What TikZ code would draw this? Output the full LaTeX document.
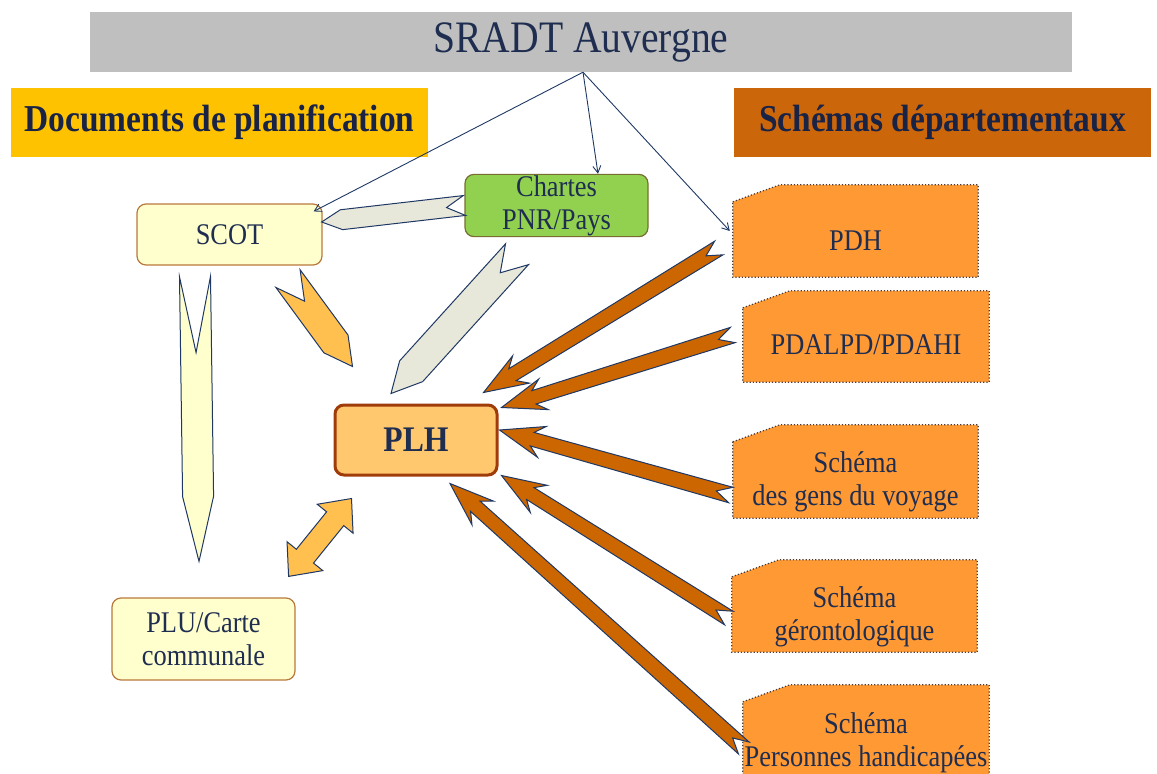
\documentclass[tikz,border=0pt]{standalone}
\usepackage{fontspec}
\setmainfont[FakeStretch=0.88]{Liberation Serif}
\usetikzlibrary{calc,positioning,arrows.meta}

\definecolor{navyline}{RGB}{31,56,100}
\definecolor{navytext}{RGB}{30,45,80}
\definecolor{headtext}{RGB}{25,35,70}
\definecolor{barfill}{RGB}{191,191,191}
\definecolor{docfill}{RGB}{255,194,0}
\definecolor{schfill}{RGB}{204,102,10}
\definecolor{scotfill}{RGB}{255,255,206}
\definecolor{boxline}{RGB}{185,120,60}
\definecolor{chartfill}{RGB}{146,208,80}
\definecolor{chartline}{RGB}{120,110,50}
\definecolor{plhfill}{RGB}{255,200,110}
\definecolor{plhline}{RGB}{160,60,10}
\definecolor{snipfill}{RGB}{255,153,51}
\definecolor{snipline}{RGB}{70,60,60}
\definecolor{brownfill}{RGB}{204,102,0}
\definecolor{greyfill}{RGB}{232,232,218}
\definecolor{orangefill}{RGB}{255,192,80}

\newcommand{\boxfont}{\fontsize{30}{33}\selectfont}

\tikzset{
  titlebar/.style={fill=barfill, minimum width=982, minimum height=60, text=navytext, font=\fontsize{45}{50}\selectfont},
  headbox/.style={minimum width=417, minimum height=69, text=headtext, font=\bfseries\fontsize{38}{42}\selectfont},
  planbox/.style={draw=boxline, line width=1.2, rounded corners=9, fill=scotfill, text=navytext, align=center, inner sep=1pt, font=\boxfont, minimum width=185, minimum height=61},
  snipbox/.style={minimum width=245, minimum height=92},
  sniptext/.style={align=center, text=navytext, font=\boxfont},
  link/.style={navyline, line width=0.9, -{Straight Barb[length=7pt,width=8pt]}},
  greyarrow/.style={draw=navyline, line width=1, fill=greyfill},
  orangearrow/.style={draw=navyline, line width=1, fill=orangefill},
  palearrow/.style={draw=navyline, line width=1, fill=scotfill},
  feed/.style={draw=navyline, line width=1, fill=brownfill}
}

% notched arrow with a pointed end: style, tail, tip, half width, notch, head
\newcommand{\pentarrow}[6]{%
  \coordinate (pahead) at ($(#3)!#6!(#2)$);
  \draw[#1] ($(#2)!#4!90:(#3)$) -- ($(#2)!#5!(#3)$) -- ($(#2)!#4!-90:(#3)$)
    -- ($(pahead)!#4!-90:(#3)$) -- (#3) -- ($(pahead)!#4!90:(#3)$) -- cycle;
}
% brown notched arrow with barbed head: tail, tip
\newcommand{\feedarrow}[2]{%
  \coordinate (fabarb) at ($(#2)!44pt!(#1)$);
  \coordinate (fajoint) at ($(#2)!34pt!(#1)$);
  \draw[feed] ($(#1)!8pt!90:(#2)$) -- ($(#1)!15pt!(#2)$) -- ($(#1)!8pt!-90:(#2)$)
    -- ($(fajoint)!7pt!-90:(#2)$) -- ($(fabarb)!16pt!-90:(#2)$) -- (#2)
    -- ($(fabarb)!16pt!90:(#2)$) -- ($(fajoint)!7pt!90:(#2)$) -- cycle;
}
% double headed arrow: end, end
\newcommand{\bothwayarrow}[2]{%
  \coordinate (dwa) at ($(#1)!26pt!(#2)$);
  \coordinate (dwb) at ($(#2)!26pt!(#1)$);
  \draw[orangearrow] (#1) -- ($(dwa)!23pt!90:(#2)$) -- ($(dwa)!11pt!90:(#2)$)
    -- ($(dwb)!11pt!90:(#2)$) -- ($(dwb)!23pt!90:(#2)$) -- (#2)
    -- ($(dwb)!23pt!-90:(#2)$) -- ($(dwb)!11pt!-90:(#2)$)
    -- ($(dwa)!11pt!-90:(#2)$) -- ($(dwa)!23pt!-90:(#2)$) -- cycle;
}

\begin{document}
\begin{tikzpicture}[x=1pt,y=-1pt]
\useasboundingbox (0,0) rectangle (1157,774);
\clip (0,0) rectangle (1157,774);

% titles
\node[titlebar] (sradt) at (581,42) {SRADT Auvergne};
\node[headbox, fill=docfill] (docs) at (219.5,122.5) {Documents de planification};
\node[headbox, fill=schfill] (schemas) at (942.5,122.5) {Schémas départementaux};

% documents de planification
\node[planbox] (scot) at (229.5,234.5) {SCOT};
\node[planbox, fill=chartfill, draw=chartline, minimum width=183] (chartes) at (556.5,205.5) {Chartes\\PNR/Pays};
\node[planbox, minimum width=183, minimum height=82] (plu) at (203.5,639) {PLU/Carte\\communale};
\node[planbox, fill=plhfill, draw=plhline, line width=3, minimum width=162, minimum height=70,
      font=\bfseries\fontsize{36}{40}\selectfont] (plh) at (416,440) {PLH};

% schemas departementaux
\node[snipbox] (pdh) at (855.5,231) {};
\node[snipbox, minimum width=246, minimum height=91] (pdal) at (866,336.5) {};
\node[snipbox, minimum height=93] (gens) at (855.5,471.5) {};
\node[snipbox] (geronto) at (854.5,606) {};
\node[snipbox, minimum width=246, minimum height=96] (handi) at (866,733) {};
\foreach \b in {pdh,pdal,gens,geronto,handi}
  \draw[snipline, dotted, line width=1.2, fill=snipfill]
    ([yshift=-17pt]\b.north west) -- ([xshift=47pt]\b.north west) -- (\b.north east)
    -- (\b.south east) -- (\b.south west) -- cycle;
\node[sniptext] (pdhtxt) at ([yshift=-10pt]pdh.center) {PDH};
\node[sniptext] (pdaltxt) at ([yshift=-8pt]pdal.center) {PDALPD/PDAHI};
\node[sniptext] (genstxt) at ([yshift=-10pt]gens.center) {Schéma\\des gens du voyage};
\node[sniptext] (gerontotxt) at ([yshift=-11pt]geronto.center) {Schéma\\gérontologique};
\node[sniptext] (handitxt) at ([yshift=-10pt]handi.center) {Schéma\\Personnes handicapées};

% links from the SRADT
\coordinate (apex) at ([xshift=2pt]sradt.south);
\draw[link] (apex) -- ([xshift=-9pt,yshift=-8pt]scot.north east);
\draw[link] (apex) -- ([xshift=41.5pt]chartes.north);
\draw[link] (apex) -- ([xshift=-3pt]pdh.west);

% block arrows
\coordinate (chout1) at (chartes.west);
\coordinate (scotin) at ($(scot.east)+(-1,-12.5)$);
\coordinate (chout2) at ($(chartes.south)+(-39.5,17)$);
\coordinate (plhtop) at ($(plh.north)+(-25,-10)$);
\coordinate (scotout) at ($(scot.south)+(58.5,13)$);
\coordinate (plhnw) at ($(plh.north west)+(19,-37)$);
\coordinate (scotdown) at ($(scot.south)+(-34.5,11)$);
\coordinate (pluin) at ($(plu.north)+(-4.5,-36)$);
\coordinate (pluout) at ($(plu.north east)+(-7,-21)$);
\coordinate (plhsw) at ($(plh.south west)+(18,22)$);

\pentarrow{greyarrow}{chout1}{scotin}{10pt}{18pt}{20pt}
\pentarrow{greyarrow}{chout2}{plhtop}{15.5pt}{25pt}{30pt}
\pentarrow{orangearrow}{scotout}{plhnw}{15pt}{28pt}{28pt}
\pentarrow{palearrow}{scotdown}{pluin}{15.5pt}{76pt}{65pt}
\bothwayarrow{pluout}{plhsw}

% arrows from the schemas
\coordinate (pdhout) at ($(pdh.west)+(-14,17)$);
\coordinate (plhin1) at ($(plh.north east)+(-15,-11)$);
\coordinate (pdalout) at ($(pdal.west)+(-10,-1.5)$);
\coordinate (plhin2) at ($(plh.north east)+(3,4)$);
\coordinate (gensout) at ($(gens.west)+(-2,23.5)$);
\coordinate (plhin3) at ($(plh.east)+(1,-10)$);
\coordinate (gerout) at ($(geronto.west)+(-3,12)$);
\coordinate (plhin4) at ($(plh.south east)+(3,-1)$);
\coordinate (handiout) at ($(handi.west)+(1,15)$);
\coordinate (plhin5) at ($(plh.south)+(34,7)$);

\feedarrow{pdhout}{plhin1}
\feedarrow{pdalout}{plhin2}
\feedarrow{gensout}{plhin3}
\feedarrow{gerout}{plhin4}
\feedarrow{handiout}{plhin5}
\end{tikzpicture}
\end{document}
